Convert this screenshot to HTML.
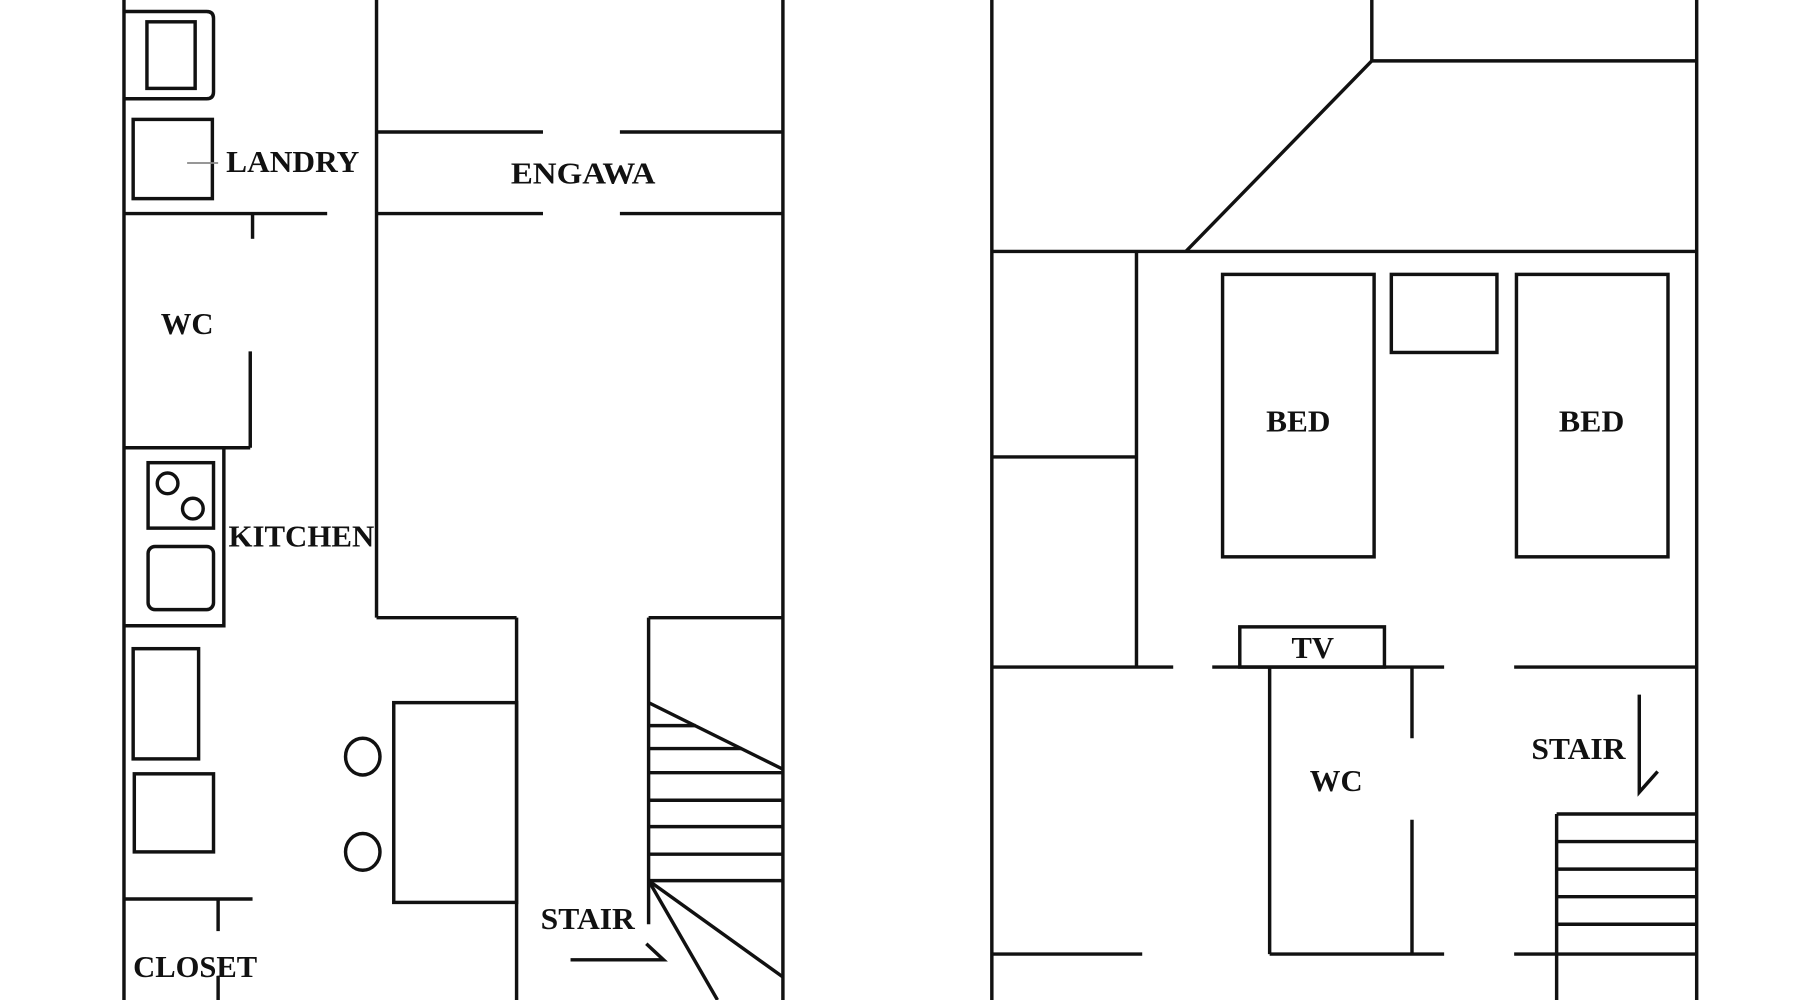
<!DOCTYPE html>
<html><head><meta charset="utf-8"><style>
html,body{margin:0;padding:0;background:#fff;width:1800px;height:1000px;overflow:hidden}
svg{display:block}
text{font-family:"Liberation Serif",serif;font-weight:bold;font-size:27px;fill:#111}
</style></head><body>
<svg width="1800" height="1000" viewBox="0 0 1568 871" preserveAspectRatio="none" xmlns="http://www.w3.org/2000/svg">
<g stroke="#111" stroke-width="3" fill="none">
<!-- LEFT PLAN -->
<line x1="108" y1="0" x2="108" y2="871"/>
<line x1="682" y1="0" x2="682" y2="871"/>
<line x1="328" y1="0" x2="328" y2="538"/>
<line x1="328" y1="115" x2="473" y2="115"/><line x1="540" y1="115" x2="682" y2="115"/>
<line x1="328" y1="186" x2="473" y2="186"/><line x1="540" y1="186" x2="682" y2="186"/>
<path d="M108 10 H180 Q186 10 186 16 V80 Q186 86 180 86 H108"/>
<rect x="128" y="19" width="42" height="58"/>
<rect x="116" y="104" width="69" height="69"/>
<line x1="163" y1="142" x2="190" y2="142" stroke="#888" stroke-width="1.5"/>
<line x1="108" y1="186" x2="285" y2="186"/>
<line x1="220" y1="186" x2="220" y2="208"/>
<line x1="218" y1="306" x2="218" y2="390"/>
<line x1="108" y1="390" x2="218" y2="390"/>
<path d="M108 390 H195 V545 H108"/>
<rect x="129" y="403" width="57" height="57"/>
<circle cx="146" cy="421" r="9"/><circle cx="168" cy="443" r="9"/>
<rect x="129" y="476" width="57" height="55" rx="6"/>
<line x1="328" y1="538" x2="450" y2="538"/>
<line x1="450" y1="538" x2="450" y2="871"/>
<rect x="343" y="612" width="107" height="174"/>
<ellipse cx="316" cy="659" rx="15" ry="16"/><ellipse cx="316" cy="742" rx="15" ry="16"/>
<rect x="116" y="565" width="57" height="96"/>
<rect x="117" y="674" width="69" height="68"/>
<line x1="108" y1="783" x2="220" y2="783"/>
<line x1="190" y1="783" x2="190" y2="811"/><line x1="190" y1="850" x2="190" y2="871"/>
<line x1="565" y1="538" x2="682" y2="538"/>
<line x1="565" y1="538" x2="565" y2="805"/>
<line x1="565" y1="612" x2="682" y2="670"/>
<line x1="565" y1="632" x2="606" y2="632"/>
<line x1="565" y1="652" x2="646" y2="652"/>
<line x1="565" y1="673" x2="682" y2="673"/>
<line x1="565" y1="697" x2="682" y2="697"/>
<line x1="565" y1="720" x2="682" y2="720"/>
<line x1="565" y1="744" x2="682" y2="744"/>
<line x1="565" y1="767" x2="682" y2="767"/>
<line x1="565" y1="767" x2="682" y2="851"/>
<line x1="565" y1="767" x2="625" y2="871"/>
<path d="M497 836 H578 L563 822"/>
<!-- RIGHT PLAN -->
<line x1="864" y1="0" x2="864" y2="871"/>
<line x1="1478" y1="0" x2="1478" y2="871"/>
<line x1="1195" y1="0" x2="1195" y2="53"/>
<line x1="1195" y1="53" x2="1478" y2="53"/>
<line x1="1195" y1="53" x2="1033" y2="219"/>
<line x1="864" y1="219" x2="1478" y2="219"/>
<line x1="990" y1="219" x2="990" y2="581"/>
<line x1="864" y1="398" x2="990" y2="398"/>
<rect x="1065" y="239" width="132" height="246"/>
<rect x="1321" y="239" width="132" height="246"/>
<rect x="1212" y="239" width="92" height="68"/>
<line x1="864" y1="581" x2="1022" y2="581"/>
<line x1="1056" y1="581" x2="1258" y2="581"/>
<line x1="1319" y1="581" x2="1478" y2="581"/>
<rect x="1080" y="546" width="126" height="35"/>
<line x1="1106" y1="581" x2="1106" y2="831"/>
<line x1="1230" y1="581" x2="1230" y2="643"/>
<line x1="1230" y1="714" x2="1230" y2="831"/>
<line x1="864" y1="831" x2="995" y2="831"/>
<line x1="1106" y1="831" x2="1258" y2="831"/>
<line x1="1319" y1="831" x2="1478" y2="831"/>
<path d="M1428 605 V690 L1444 672"/>
<line x1="1356" y1="709" x2="1356" y2="871"/>
<line x1="1356" y1="709" x2="1478" y2="709"/>
<line x1="1356" y1="733" x2="1478" y2="733"/>
<line x1="1356" y1="757" x2="1478" y2="757"/>
<line x1="1356" y1="781" x2="1478" y2="781"/>
<line x1="1356" y1="805" x2="1478" y2="805"/>
</g>
<g lengthAdjust="spacingAndGlyphs">
<text x="197" y="150" textLength="116" lengthAdjust="spacingAndGlyphs">LANDRY</text>
<text x="445" y="160" textLength="126" lengthAdjust="spacingAndGlyphs">ENGAWA</text>
<text x="140" y="291" textLength="46" lengthAdjust="spacingAndGlyphs">WC</text>
<text x="199" y="476" textLength="127" lengthAdjust="spacingAndGlyphs">KITCHEN</text>
<text x="116" y="851" textLength="108" lengthAdjust="spacingAndGlyphs">CLOSET</text>
<text x="471" y="809" textLength="82" lengthAdjust="spacingAndGlyphs">STAIR</text>
<text x="1103" y="376" textLength="56" lengthAdjust="spacingAndGlyphs">BED</text>
<text x="1358" y="376" textLength="57" lengthAdjust="spacingAndGlyphs">BED</text>
<text x="1125" y="573" textLength="37" lengthAdjust="spacingAndGlyphs">TV</text>
<text x="1141" y="689" textLength="46" lengthAdjust="spacingAndGlyphs">WC</text>
<text x="1334" y="661" textLength="82" lengthAdjust="spacingAndGlyphs">STAIR</text>
</g>
</svg>
</body></html>
